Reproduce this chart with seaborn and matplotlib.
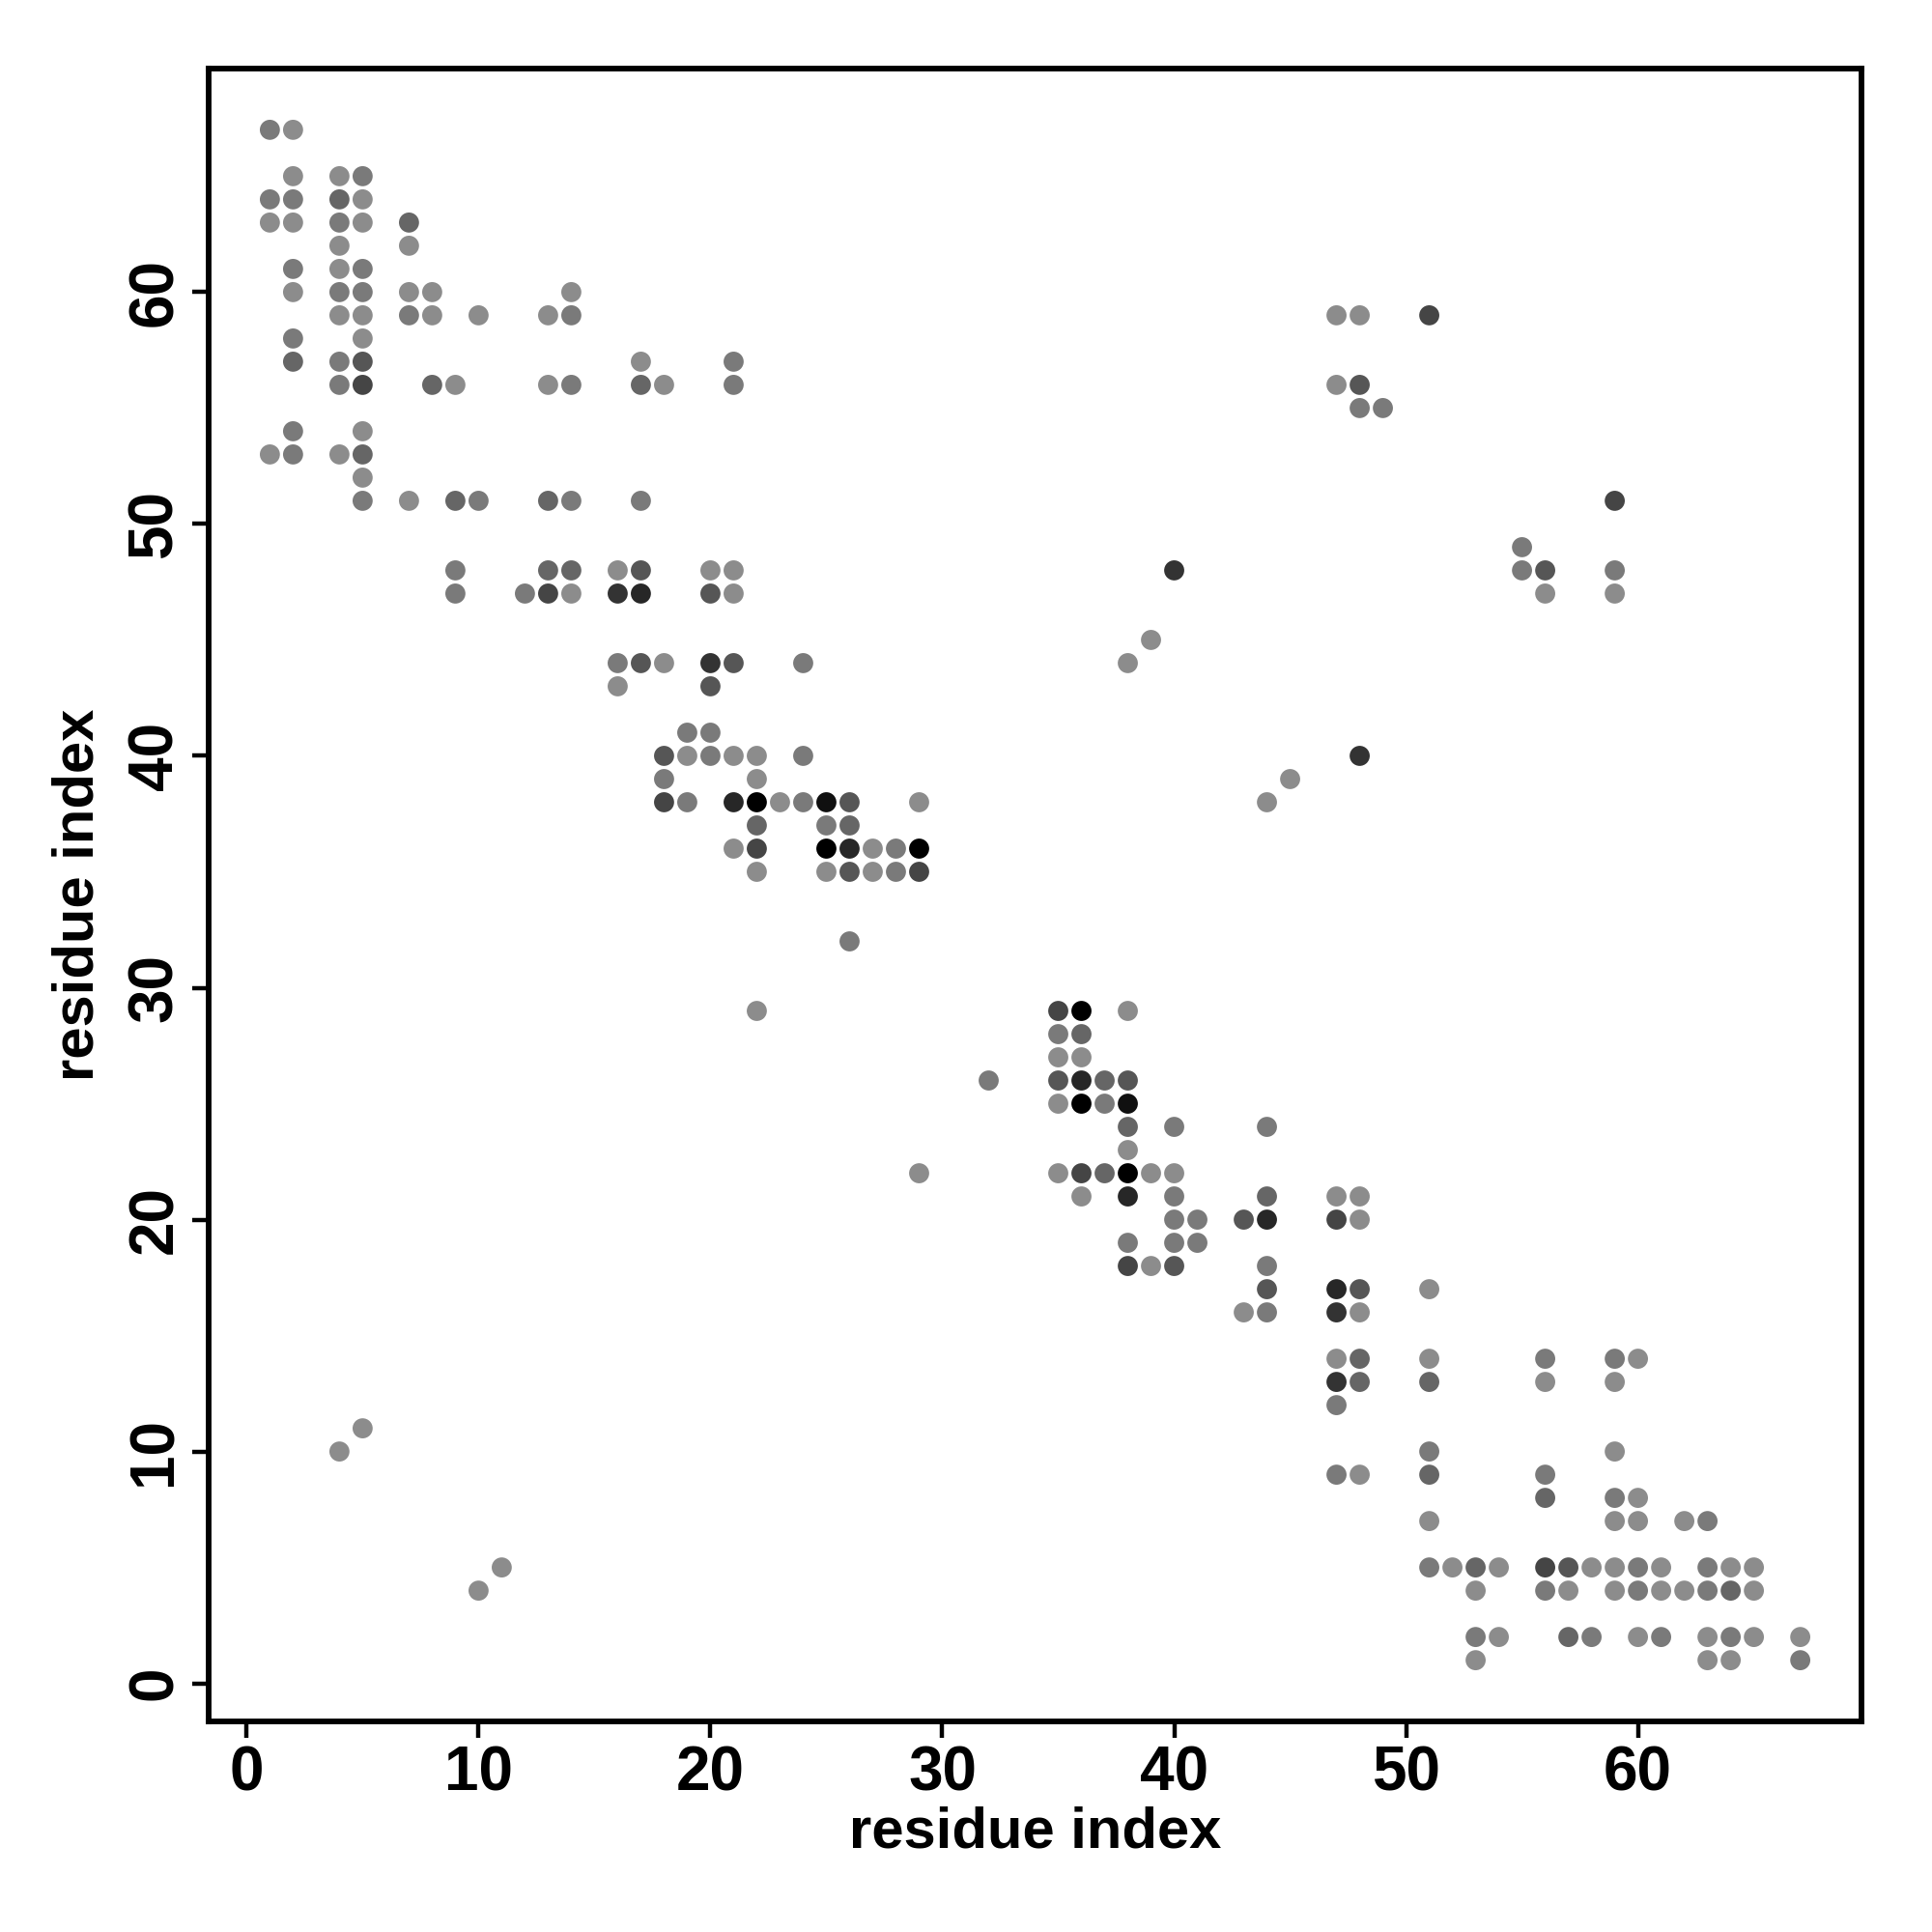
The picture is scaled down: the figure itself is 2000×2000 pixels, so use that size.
import matplotlib
matplotlib.use("Agg")
import matplotlib.pyplot as plt
from matplotlib.colors import LinearSegmentedColormap
import seaborn as sns
import pandas as pd

# contact strength levels (0 = weakest/light gray, 1 = strongest/black)
L, M, D3, D4, D5, D6, D7, B, BB = 0.0, 0.13, 0.27, 0.39, 0.51, 0.64, 0.72, 0.88, 1.0

res_i = [1, 2, 2, 4, 5, 1, 2, 4, 5, 1, 2, 4, 5, 7, 4, 7, 2, 4, 5,
         2, 4, 5, 7, 8, 14, 4, 5, 7, 8, 10, 13, 14, 2, 5,
         2, 4, 5, 17, 21, 4, 5, 8, 9, 13, 14, 17, 18, 21,
         2, 5, 1, 2, 4, 5, 5, 5, 7, 9, 10, 13, 14, 17,
         9, 13, 14, 16, 17, 20, 21, 9, 12, 13, 14, 16, 17, 20, 21,
         16, 17, 18, 20, 21, 24, 16, 20, 19, 20, 18, 19, 20, 21, 22, 24,
         18, 22, 18, 19, 21, 22, 23, 24, 25, 26, 29, 22, 25, 26,
         21, 22, 25, 26, 27, 28, 29, 22, 25, 26, 27, 28, 29, 26, 22,
         35, 36, 38, 35, 36, 35, 36, 32, 35, 36, 37, 38, 35, 36, 37, 38,
         38, 40, 44, 38, 29, 35, 36, 37, 38, 39, 40,
         36, 38, 40, 44, 47, 48, 40, 41, 43, 44, 47, 48, 38, 40, 41,
         38, 39, 40, 44, 44, 47, 48, 51, 43, 44, 47, 48,
         47, 48, 51, 56, 59, 60, 47, 48, 51, 56, 59, 47, 51, 59,
         47, 48, 51, 56, 56, 59, 60, 51, 59, 60, 62, 63,
         51, 52, 53, 54, 56, 57, 58, 59, 60, 61, 63, 64, 65,
         53, 56, 57, 59, 60, 61, 62, 63, 64, 65,
         53, 54, 57, 58, 60, 61, 63, 64, 65, 67, 53, 63, 64, 67,
         47, 48, 51, 47, 48, 48, 49, 59, 55, 40, 55, 56, 59, 56, 59,
         39, 38, 48, 45, 44, 4, 5, 10, 11]

res_j = [67, 67, 65, 65, 65, 64, 64, 64, 64, 63, 63, 63, 63, 63, 62, 62, 61, 61, 61,
         60, 60, 60, 60, 60, 60, 59, 59, 59, 59, 59, 59, 59, 58, 58,
         57, 57, 57, 57, 57, 56, 56, 56, 56, 56, 56, 56, 56, 56,
         54, 54, 53, 53, 53, 53, 52, 51, 51, 51, 51, 51, 51, 51,
         48, 48, 48, 48, 48, 48, 48, 47, 47, 47, 47, 47, 47, 47, 47,
         44, 44, 44, 44, 44, 44, 43, 43, 41, 41, 40, 40, 40, 40, 40, 40,
         39, 39, 38, 38, 38, 38, 38, 38, 38, 38, 38, 37, 37, 37,
         36, 36, 36, 36, 36, 36, 36, 35, 35, 35, 35, 35, 35, 32, 29,
         29, 29, 29, 28, 28, 27, 27, 26, 26, 26, 26, 26, 25, 25, 25, 25,
         24, 24, 24, 23, 22, 22, 22, 22, 22, 22, 22,
         21, 21, 21, 21, 21, 21, 20, 20, 20, 20, 20, 20, 19, 19, 19,
         18, 18, 18, 18, 17, 17, 17, 17, 16, 16, 16, 16,
         14, 14, 14, 14, 14, 14, 13, 13, 13, 13, 13, 12, 10, 10,
         9, 9, 9, 9, 8, 8, 8, 7, 7, 7, 7, 7,
         5, 5, 5, 5, 5, 5, 5, 5, 5, 5, 5, 5, 5,
         4, 4, 4, 4, 4, 4, 4, 4, 4, 4,
         2, 2, 2, 2, 2, 2, 2, 2, 2, 2, 1, 1, 1, 1,
         59, 59, 59, 56, 56, 55, 55, 51, 49, 48, 48, 48, 48, 47, 47,
         45, 44, 40, 39, 38, 10, 11, 4, 5]

strength = [M, L, L, L, M, M, M, D3, L, L, L, M, L, D3, L, L, M, L, M,
            L, M, M, L, L, L, L, L, M, L, L, L, M, M, L,
            D3, M, D4, L, M, M, D5, D3, L, L, M, D3, L, M,
            M, L, L, M, L, D3, L, M, L, D3, M, D3, M, M,
            M, D3, D3, L, D4, L, L, M, M, D5, L, D6, D7, D4, L,
            M, D4, L, D6, D4, M, L, D4, M, M, D4, L, M, L, L, M,
            M, L, D5, M, D7, BB, L, M, B, D4, L, D3, M, D3,
            L, D5, BB, D7, L, M, BB, L, L, D4, L, M, D5, M, L,
            D5, BB, L, M, D3, L, L, M, D4, D7, D3, D4, L, BB, M, B,
            D3, M, M, L, L, L, D5, D3, BB, L, L,
            L, D7, M, D3, L, L, M, M, D4, D7, D5, L, M, M, M,
            D5, L, D4, M, D4, D7, D4, L, L, M, D6, L,
            L, D3, L, M, M, L, D6, D3, D3, L, L, M, M, L,
            M, L, D3, M, D3, M, L, L, L, L, L, M,
            M, L, D3, L, D5, D4, L, L, M, L, M, L, L,
            L, M, L, L, M, L, L, M, D3, L,
            M, L, D3, M, L, M, L, M, L, L, L, L, L, M,
            L, L, D5, L, D4, M, M, D5, M, D6, M, D4, M, L, L,
            L, L, D6, L, L, L, L, L, L]

df = pd.DataFrame({"i": res_i, "j": res_j, "s": strength})

sns.set_style("ticks")
plt.rcParams["font.family"] = ["Liberation Sans", "DejaVu Sans"]
plt.rcParams["font.weight"] = "bold"
plt.rcParams["text.color"] = "black"
plt.rcParams["axes.labelcolor"] = "black"
plt.rcParams["xtick.color"] = "black"
plt.rcParams["ytick.color"] = "black"

fig = plt.figure(figsize=(10, 10), dpi=200)
ax = fig.add_axes([0.108, 0.109, 0.8555, 0.8555])

cmap = LinearSegmentedColormap.from_list("grey_contact", ["#8c8c8c", "#000000"])
sns.scatterplot(data=df, x="i", y="j", hue="s", palette=cmap, hue_norm=(0, 1),
                s=56, linewidth=0, edgecolor="none", legend=False, ax=ax)

lo, hi = 1, 67
pad = (hi - lo) * 0.04
ax.set_xlim(lo - pad, hi + pad)
ax.set_ylim(lo - pad, hi + pad)
ticks = [0, 10, 20, 30, 40, 50, 60]
ax.set_xticks(ticks)
ax.set_yticks(ticks)
ax.set_xticklabels([str(t) for t in ticks], fontsize=23, fontweight="bold", color="black")
ax.set_yticklabels([str(t) for t in ticks], fontsize=23, fontweight="bold", color="black",
                   rotation=90, va="center")
ax.tick_params(axis="both", direction="out", length=6, width=1.6, colors="black", pad=3)
for sp in ax.spines.values():
    sp.set_linewidth(2.1)
    sp.set_color("black")
ax.set_xlabel("residue index", fontsize=21.5, fontweight="bold", labelpad=1, color="black")
ax.set_ylabel("residue index", fontsize=21.5, fontweight="bold", labelpad=8, color="black")

fig.savefig("out.png", dpi=200, facecolor="white")
